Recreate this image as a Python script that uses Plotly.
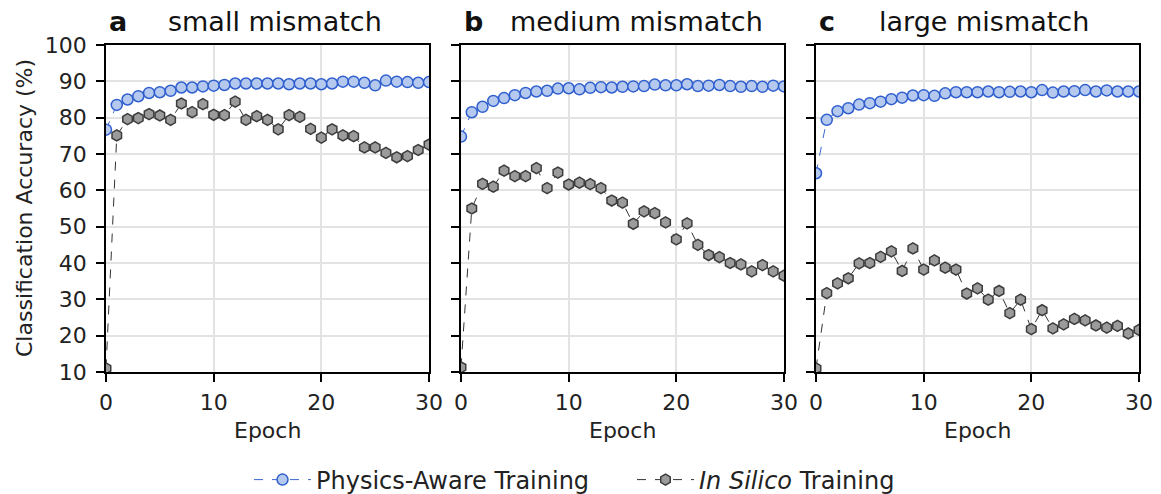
import plotly.graph_objects as go

epochs = list(range(31))

pat_small = [76.7, 83.5, 85.0, 85.9, 86.8, 87.0, 87.4, 88.3, 88.3, 88.6, 88.8,
             89.0, 89.4, 89.4, 89.4, 89.4, 89.4, 89.2, 89.4, 89.4, 89.2,
             89.4, 89.9, 89.9, 89.6, 88.9, 90.2, 89.9, 89.8, 89.6, 89.8]
insilico_small = [11.0, 75.1, 79.6, 79.9, 81.0, 80.6, 79.4, 83.9, 81.5, 83.7, 80.8,
                  80.7, 84.4, 79.4, 80.4, 79.4, 76.8, 80.7, 80.2, 76.9, 74.5,
                  76.8, 75.1, 74.9, 71.8, 71.8, 70.3, 69.1, 69.4, 71.1, 72.6]

pat_medium = [74.8, 81.5, 83.0, 84.6, 85.4, 86.2, 86.8, 87.2, 87.4, 88.0, 88.1,
              87.8, 88.2, 88.4, 88.3, 88.5, 88.6, 88.7, 89.1, 88.9, 88.9,
              89.2, 88.7, 88.8, 89.0, 88.7, 88.5, 88.7, 88.5, 88.8, 88.6]
insilico_medium = [11.3, 55.0, 61.8, 61.0, 65.4, 63.9, 63.9, 66.1, 60.6, 64.9, 61.6,
                   62.1, 61.7, 60.6, 57.2, 56.6, 50.8, 54.2, 53.7, 51.2, 46.5,
                   50.9, 45.0, 42.2, 41.6, 40.0, 39.6, 37.7, 39.4, 37.7, 36.5]

pat_large = [64.7, 79.4, 81.8, 82.6, 83.6, 84.0, 84.4, 85.1, 85.5, 86.1, 86.2,
             86.0, 86.7, 87.0, 87.0, 87.0, 87.2, 87.0, 87.1, 87.2, 87.0,
             87.6, 86.9, 87.2, 87.3, 87.6, 87.2, 87.5, 87.2, 87.2, 87.2]
insilico_large = [11.0, 31.7, 34.4, 35.8, 39.9, 40.0, 41.7, 43.2, 37.8, 44.0, 38.2,
                  40.7, 38.7, 38.2, 31.6, 33.0, 29.9, 32.3, 26.2, 29.9, 21.8,
                  27.0, 22.0, 23.1, 24.6, 24.2, 22.8, 22.2, 22.7, 20.6, 21.6]

panel_letters = ["a", "b", "c"]
panel_titles = ["small mismatch", "medium mismatch", "large mismatch"]
x_ticks = [0, 10, 20, 30]
y_ticks = [10, 20, 30, 40, 50, 60, 70, 80, 90, 100]
series_names = ["Physics-Aware Training", "<i>In Silico</i> Training"]

W, H = 1161, 494
FONT = "DejaVu Sans"
ML, MR, MT, MB = 106, 22, 45, 122
PW, PH = W - ML - MR, H - MT - MB
panels_px = [(106, 429), (461, 784), (816, 1139)]
title_cx = [275, 636.5, 983.5]


def px_x(px):
    return (px - ML) / PW


def px_y(py):
    return (H - MB - py) / PH


pat_data = [pat_small, pat_medium, pat_large]
ins_data = [insilico_small, insilico_medium, insilico_large]

fig = go.Figure()

for i in range(3):
    xa = "x" if i == 0 else f"x{i+1}"
    ya = "y" if i == 0 else f"y{i+1}"
    fig.add_trace(go.Scatter(
        x=epochs, y=ins_data[i], xaxis=xa, yaxis=ya, mode="lines+markers",
        name=series_names[1], legendrank=2, showlegend=(i == 0),
        line=dict(color="#333333", width=1, dash="dash"),
        marker=dict(symbol="hexagon", size=11, color="#9b9b9b",
                    line=dict(color="#3c3c3c", width=1.5)),
    ))
    fig.add_trace(go.Scatter(
        x=epochs, y=pat_data[i], xaxis=xa, yaxis=ya, mode="lines+markers",
        name=series_names[0], legendrank=1, showlegend=(i == 0),
        line=dict(color="#3a66d0", width=1, dash="dash"),
        marker=dict(symbol="circle", size=11, color="#b5c8ee",
                    line=dict(color="#2f5fcf", width=1.5)),
    ))

axis_common = dict(
    showline=True, linecolor="black", linewidth=1.5, mirror=True,
    ticks="outside", ticklen=8, tickwidth=1.5, tickcolor="black",
    showgrid=True, gridcolor="#e3e3e3", gridwidth=1.5, zeroline=False,
    automargin=False,
    tickfont=dict(family=FONT, size=22, color="#222222"),
)

layout = dict(
    width=W, height=H,
    margin=dict(l=ML, r=MR, t=MT, b=MB, autoexpand=False),
    paper_bgcolor="white", plot_bgcolor="white",
    font=dict(family=FONT, size=22, color="#222222"),
    showlegend=True,
    legend=dict(orientation="h", xref="container", yref="container",
                x=249 / W, xanchor="left", y=1 - 480 / H,
                yanchor="middle", font=dict(family=FONT, size=24, color="#222222"),
                traceorder="normal", itemwidth=57,
                entrywidthmode="pixels", entrywidth=311),
)

annotations = []
for i, (x0, x1) in enumerate(panels_px):
    sfx = "" if i == 0 else str(i + 1)
    layout["xaxis" + sfx] = dict(
        domain=[px_x(x0), px_x(x1)], range=[0, 30], tickvals=x_ticks,
        anchor="y" + sfx, ticklabelstandoff=2, **axis_common)
    layout["yaxis" + sfx] = dict(
        domain=[0, 1], range=[10, 100], tickvals=y_ticks,
        showticklabels=(i == 0), anchor="x" + sfx, ticklabelstandoff=5,
        **axis_common)
    annotations.append(dict(
        text=f"<b>{panel_letters[i]}</b>", x=px_x(x0 + 1), y=px_y(22),
        xref="paper", yref="paper", xanchor="left", yanchor="middle",
        showarrow=False, font=dict(family=FONT, size=27, color="#111111")))
    annotations.append(dict(
        text=panel_titles[i], x=px_x(title_cx[i]), y=px_y(22),
        xref="paper", yref="paper", xanchor="center", yanchor="middle",
        showarrow=False, font=dict(family=FONT, size=27, color="#111111")))
    annotations.append(dict(
        text="Epoch", x=px_x((x0 + x1) / 2), y=px_y(431),
        xref="paper", yref="paper", xanchor="center", yanchor="middle",
        showarrow=False, font=dict(family=FONT, size=22, color="#222222")))

annotations.append(dict(
    text="Classification Accuracy (%)", x=px_x(24), y=px_y(208),
    xref="paper", yref="paper", xanchor="center", yanchor="middle",
    textangle=-90, showarrow=False,
    font=dict(family=FONT, size=22, color="#222222")))

layout["annotations"] = annotations
fig.update_layout(**layout)

fig.write_html(
    "out.html",
    config={"displayModeBar": False},
    post_script="document.body.style.margin='0';document.body.style.padding='0';",
)
